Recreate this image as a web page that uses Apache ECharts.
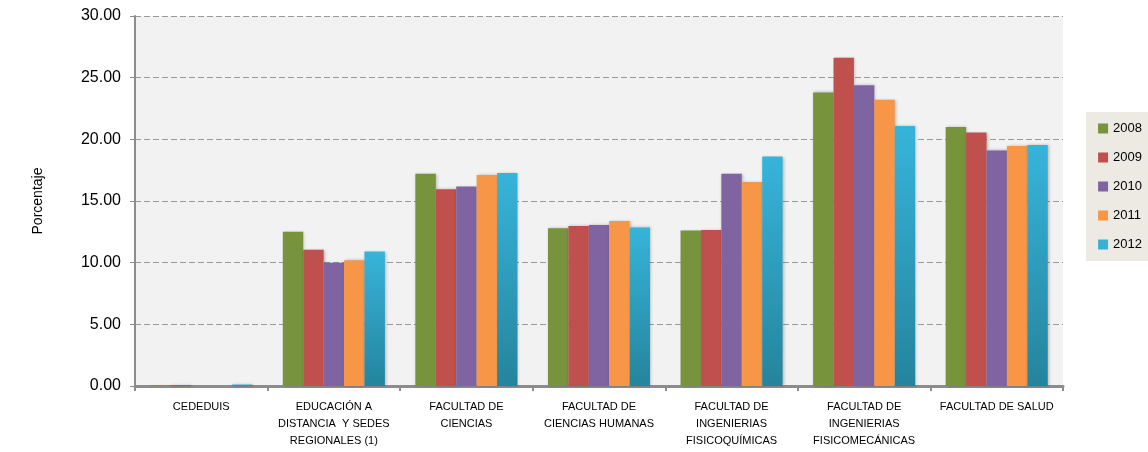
<!DOCTYPE html>
<html>
<head>
<meta charset="utf-8">
<script src="https://cdn.jsdelivr.net/npm/echarts@6/dist/echarts.min.js"></script>
<style>
  html, body { margin: 0; padding: 0; background: #fff; }
  #chart { width: 1148px; height: 452px; }
</style>
</head>
<body>
<div id="chart"></div>
<script>
// categories (x axis)
const categories = [
  'CEDEDUIS',
  'EDUCACIÓN A\nDISTANCIA  Y SEDES\nREGIONALES (1)',
  'FACULTAD DE\nCIENCIAS',
  'FACULTAD DE\nCIENCIAS HUMANAS',
  'FACULTAD DE\nINGENIERIAS\nFISICOQUÍMICAS',
  'FACULTAD DE\nINGENIERIAS\nFISICOMECÁNICAS',
  'FACULTAD DE SALUD'
]
const years = ['2008', '2009', '2010', '2011', '2012']

// percentages per year
const y2008 = [0.02, 12.5, 17.2, 12.8, 12.6, 23.8, 21.0]
const y2009 = [0.08, 11.05, 15.95, 12.97, 12.65, 26.62, 20.55]
const y2010 = [0.0, 10.0, 16.17, 13.05, 17.2, 24.38, 19.1]
const y2011 = [0.0, 10.2, 17.1, 13.38, 16.55, 23.2, 19.45]
const y2012 = [0.12, 10.9, 17.28, 12.86, 18.6, 21.08, 19.54]

const yTicks = [0, 5, 10, 15, 20, 25, 30]

const colors = [
  '#77933c',
  '#c0504d',
  '#8064a2',
  '#f79646',
  new echarts.graphic.LinearGradient(0, 0, 0, 1, [
    { offset: 0, color: '#37b4da' },
    { offset: 1, color: '#25849d' }
  ])
]
const legendColors = ['#77933c', '#c0504d', '#8064a2', '#f79646', '#37b0d2']

const seriesData = [y2008, y2009, y2010, y2011, y2012]

const chart = echarts.init(document.getElementById('chart'))

chart.setOption({
  animation: false,
  textStyle: { fontFamily: 'Liberation Sans, Arial, sans-serif' },
  grid: {
    left: 135,
    right: 85,
    top: 16,
    bottom: 66,
    show: true,
    backgroundColor: '#f2f2f2',
    borderWidth: 0
  },
  legend: {
    orient: 'vertical',
    right: 0,
    top: 112,
    padding: [10, 6, 10, 12],
    backgroundColor: '#eceae3',
    itemWidth: 10,
    itemHeight: 10,
    itemGap: 16,
    icon: 'rect',
    textStyle: { fontSize: 13, color: '#000' },
    data: years.map((y, i) => ({ name: y, itemStyle: { color: legendColors[i] } }))
  },
  xAxis: {
    type: 'category',
    data: categories,
    axisLine: { lineStyle: { color: '#8c8c8c', width: 3 } },
    axisTick: { show: true, length: 5, lineStyle: { color: '#8c8c8c', width: 2 } },
    axisLabel: {
      interval: 0,
      fontSize: 11,
      color: '#000',
      lineHeight: 17,
      margin: 12
    }
  },
  yAxis: {
    type: 'value',
    min: yTicks[0],
    max: yTicks[yTicks.length - 1],
    interval: 5,
    name: 'Porcentaje',
    nameLocation: 'middle',
    nameGap: 90,
    nameTextStyle: { fontSize: 14, color: '#000' },
    axisLine: { show: true, lineStyle: { color: '#8c8c8c', width: 2 } },
    axisTick: { show: true, length: 5, lineStyle: { color: '#8c8c8c' } },
    axisLabel: {
      fontSize: 16,
      color: '#000',
      margin: 14,
      formatter: v => v.toFixed(2)
    },
    splitLine: { lineStyle: { color: '#9a9a9a', type: [6, 3], width: 1.2 } }
  },
  series: years.map((y, i) => ({
    name: y,
    type: 'bar',
    data: seriesData[i],
    barGap: '0%',
    barCategoryGap: '23%',
    itemStyle: {
      color: colors[i],
      shadowColor: 'rgba(0,0,0,0.25)',
      shadowBlur: 3,
      shadowOffsetX: 1
    }
  }))
})
</script>
</body>
</html>
